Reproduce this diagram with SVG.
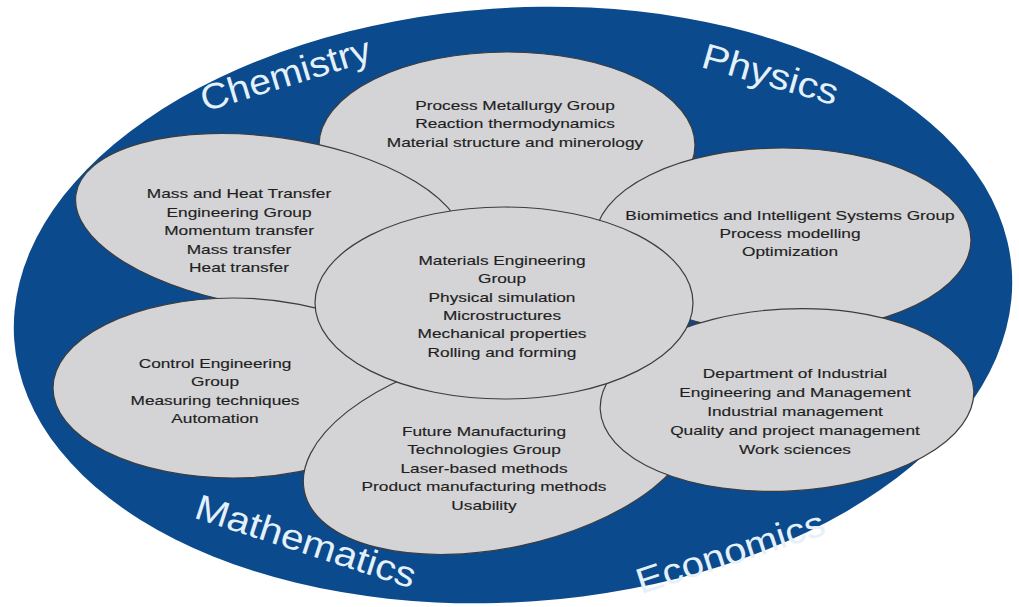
<svg xmlns="http://www.w3.org/2000/svg" width="1019" height="607" viewBox="0 0 1019 607">
<style>
.bg{fill:#ffffff}
.outer{fill:#0b4a8c}
.node{fill:#d4d4d6;stroke:#3c3c3c;stroke-width:1.2}
.t{font-family:"Liberation Sans",Arial,sans-serif;font-size:13px;fill:#1f1f1f;stroke:#1f1f1f;stroke-width:0.15;text-anchor:middle}
.lab{font-family:"Liberation Sans",Arial,sans-serif;font-size:36px;fill:#e4f1fb;text-anchor:middle}
</style>
<rect class="bg" x="0" y="0" width="1019" height="607"/>
<g id="field">
<ellipse class="outer" cx="513" cy="305" rx="500" ry="297" transform="rotate(-4 513 305)"/>
</g>
<g id="node-process-metallurgy">
<ellipse class="node" cx="507" cy="145" rx="188" ry="93"/>
<g transform="translate(515 0) scale(1.33 1)">
<text class="t" x="0" y="110">Process Metallurgy Group</text>
<text class="t" x="0" y="128.5">Reaction thermodynamics</text>
<text class="t" x="0" y="147">Material structure and minerology</text>
</g>
</g>
<g id="node-mass-heat">
<ellipse class="node" cx="270" cy="222" rx="196" ry="85" transform="rotate(8 270 222)"/>
<g transform="translate(239 0) scale(1.33 1)">
<text class="t" x="0" y="198">Mass and Heat Transfer</text>
<text class="t" x="0" y="217">Engineering Group</text>
<text class="t" x="0" y="235.5">Momentum transfer</text>
<text class="t" x="0" y="254">Mass transfer</text>
<text class="t" x="0" y="272.5">Heat transfer</text>
</g>
</g>
<g id="node-control">
<ellipse class="node" cx="233" cy="388" rx="180" ry="90"/>
<g transform="translate(215 0) scale(1.33 1)">
<text class="t" x="0" y="368">Control Engineering</text>
<text class="t" x="0" y="386.5">Group</text>
<text class="t" x="0" y="405">Measuring techniques</text>
<text class="t" x="0" y="423.5">Automation</text>
</g>
</g>
<g id="node-future-manufacturing">
<ellipse class="node" cx="500" cy="450" rx="200" ry="98" transform="rotate(-12 500 450)"/>
<g transform="translate(484 0) scale(1.33 1)">
<text class="t" x="0" y="436">Future Manufacturing</text>
<text class="t" x="0" y="454.5">Technologies Group</text>
<text class="t" x="0" y="473">Laser-based methods</text>
<text class="t" x="0" y="491.5">Product manufacturing methods</text>
<text class="t" x="0" y="510">Usability</text>
</g>
</g>
<g id="node-biomimetics">
<ellipse class="node" cx="783" cy="240" rx="188" ry="92"/>
<g transform="translate(790 0) scale(1.33 1)">
<text class="t" x="0" y="220">Biomimetics and Intelligent Systems Group</text>
<text class="t" x="0" y="238">Process modelling</text>
<text class="t" x="0" y="256">Optimization</text>
</g>
</g>
<g id="node-industrial-engineering">
<ellipse class="node" cx="787" cy="400" rx="187" ry="91" transform="rotate(-3 787 400)"/>
<g transform="translate(795 0) scale(1.33 1)">
<text class="t" x="0" y="378.5">Department of Industrial</text>
<text class="t" x="0" y="397.5">Engineering and Management</text>
<text class="t" x="0" y="416">Industrial management</text>
<text class="t" x="0" y="435">Quality and project management</text>
<text class="t" x="0" y="454">Work sciences</text>
</g>
</g>
<g id="node-materials-engineering">
<ellipse class="node" cx="504" cy="303" rx="189" ry="96"/>
<g transform="translate(502 0) scale(1.33 1)">
<text class="t" x="0" y="265">Materials Engineering</text>
<text class="t" x="0" y="283.3">Group</text>
<text class="t" x="0" y="301.6">Physical simulation</text>
<text class="t" x="0" y="320">Microstructures</text>
<text class="t" x="0" y="338.3">Mechanical properties</text>
<text class="t" x="0" y="356.6">Rolling and forming</text>
</g>
</g>
<g id="field-labels">
<text class="lab" x="0" y="0" textLength="176" lengthAdjust="spacingAndGlyphs" transform="translate(289 86) rotate(-17)">Chemistry</text>
<text class="lab" x="0" y="0" textLength="140" lengthAdjust="spacingAndGlyphs" transform="translate(767 86) rotate(16)">Physics</text>
<text class="lab" x="0" y="0" textLength="230" lengthAdjust="spacingAndGlyphs" transform="translate(302 553) rotate(18)">Mathematics</text>
<text class="lab" x="0" y="0" textLength="196" lengthAdjust="spacingAndGlyphs" transform="translate(734 564) rotate(-18)">Economics</text>
</g>
</svg>
